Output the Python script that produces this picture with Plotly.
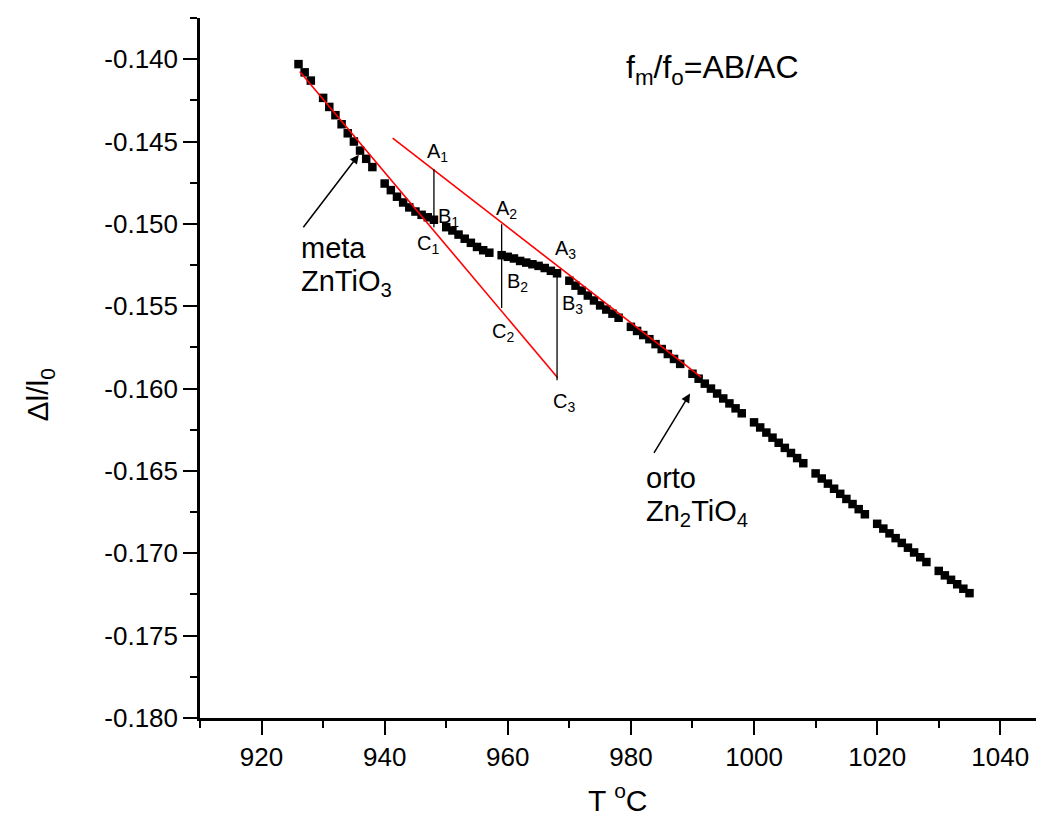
import plotly.graph_objects as go

# ---- measured data (T in °C, Δl/l0) ----
T = [926, 927, 928, 930, 931, 932, 933, 934, 935, 936, 937, 938,
     940, 941, 942, 943, 944, 945, 946, 947, 948,
     950, 951, 952, 953, 954, 955, 956, 957, 959,
     960, 961, 962, 963, 964, 965, 966, 967, 968,
     970, 971, 972, 973, 974, 975, 976, 977, 978,
     980, 981, 982, 983, 984, 985, 986, 987, 988,
     990, 991, 992, 993, 994, 995, 996, 997, 998,
     1000, 1001, 1002, 1003, 1004, 1005, 1006, 1007, 1008,
     1010, 1011, 1012, 1013, 1014, 1015, 1016, 1017, 1018,
     1020, 1021, 1022, 1023, 1024, 1025, 1026, 1027, 1028,
     1030, 1031, 1032, 1033, 1034, 1035]
DL = [-0.14030, -0.14080, -0.14130, -0.14235, -0.14290, -0.14340, -0.14395, -0.14450, -0.14500, -0.14555, -0.14605, -0.14655,
      -0.14755, -0.14795, -0.14835, -0.14870, -0.14900, -0.14925, -0.14945, -0.14960, -0.14975,
      -0.15020, -0.15040, -0.15065, -0.15090, -0.15115, -0.15140, -0.15160, -0.15175, -0.15190,
      -0.15200, -0.15210, -0.15225, -0.15235, -0.15245, -0.15255, -0.15268, -0.15285, -0.15300,
      -0.15345, -0.15375, -0.15405, -0.15435, -0.15465, -0.15495, -0.15520, -0.15545, -0.15570,
      -0.15625, -0.15650, -0.15675, -0.15700, -0.15730, -0.15760, -0.15790, -0.15820, -0.15850,
      -0.15910, -0.15940, -0.15970, -0.16000, -0.16030, -0.16060, -0.16090, -0.16120, -0.16150,
      -0.16205, -0.16236, -0.16267, -0.16298, -0.16329, -0.16360, -0.16391, -0.16422, -0.16453,
      -0.16515, -0.16546, -0.16577, -0.16608, -0.16639, -0.16670, -0.16701, -0.16732, -0.16763,
      -0.16821, -0.16850, -0.16879, -0.16908, -0.16937, -0.16966, -0.16995, -0.17024, -0.17053,
      -0.17107, -0.17134, -0.17161, -0.17188, -0.17215, -0.17242]

# tangent lines (red)
meta_line_T = [926.2, 968.1]
meta_line_v = [-0.14075, -0.15934]
orto_line_T = [941.3, 991.4]
orto_line_v = [-0.14480, -0.15930]

# vertical segments A-C
seg_T = [948, 959, 968]
seg_A = [-0.14668, -0.15002, -0.15276]
seg_C = [-0.15020, -0.15510, -0.15950]

# point labels
lab_text = ["A<sub>1</sub>", "B<sub>1</sub>", "C<sub>1</sub>",
            "A<sub>2</sub>", "B<sub>2</sub>", "C<sub>2</sub>",
            "A<sub>3</sub>", "B<sub>3</sub>", "C<sub>3</sub>"]
lab_T = [948.6, 950.4, 947.1, 959.8, 961.6, 959.3, 969.4, 970.5, 969.1]
lab_v = [-0.14568, -0.14962, -0.15126, -0.14913, -0.15357, -0.15660, -0.15156, -0.15490, -0.16085]

x_ticks = [920, 940, 960, 980, 1000, 1020, 1040]
y_ticks = [-0.180, -0.175, -0.170, -0.165, -0.160, -0.155, -0.150, -0.145, -0.140]
y_ticktext = ["-0.180", "-0.175", "-0.170", "-0.165", "-0.160", "-0.155", "-0.150", "-0.145", "-0.140"]

FONT = "Liberation Sans, Arial, sans-serif"
ANN = 29

fig = go.Figure()
fig.add_trace(go.Scatter(x=T, y=DL, mode="markers",
                         marker=dict(symbol="square", size=8.5, color="black",
                                     line=dict(width=0)),
                         showlegend=False, hoverinfo="x+y"))
fig.add_trace(go.Scatter(x=meta_line_T, y=meta_line_v, mode="lines",
                         line=dict(color="red", width=1.6), showlegend=False))
fig.add_trace(go.Scatter(x=orto_line_T, y=orto_line_v, mode="lines",
                         line=dict(color="red", width=1.6), showlegend=False))
for t, a, c in zip(seg_T, seg_A, seg_C):
    fig.add_trace(go.Scatter(x=[t, t], y=[a, c], mode="lines",
                             line=dict(color="black", width=1.3), showlegend=False))

for txt, t, v in zip(lab_text, lab_T, lab_v):
    fig.add_annotation(x=t, y=v, text=txt, showarrow=False,
                       font=dict(family=FONT, size=20, color="black"),
                       xanchor="center", yanchor="middle")

fig.add_annotation(x=993.3, y=-0.14063, text="f<sub>m</sub>/f<sub>o</sub>=AB/AC",
                   showarrow=False, font=dict(family=FONT, size=32, color="black"),
                   xanchor="center", yanchor="middle")

# meta label + arrow
fig.add_annotation(x=926.0, y=-0.15144, text="meta", showarrow=False,
                   font=dict(family=FONT, size=ANN, color="black"),
                   xanchor="left", yanchor="middle")
fig.add_annotation(x=926.0, y=-0.15357, text="ZnTiO<sub>3</sub>", showarrow=False,
                   font=dict(family=FONT, size=ANN, color="black"),
                   xanchor="left", yanchor="middle")
fig.add_annotation(x=935.8, y=-0.14580, ax=926.6, ay=-0.15030,
                   axref="x", ayref="y", text="", showarrow=True,
                   arrowhead=2, arrowsize=1.2, arrowwidth=1.5, arrowcolor="black")

# orto label + arrow
fig.add_annotation(x=982.2, y=-0.16541, text="orto", showarrow=False,
                   font=dict(family=FONT, size=ANN, color="black"),
                   xanchor="left", yanchor="middle")
fig.add_annotation(x=982.2, y=-0.16754, text="Zn<sub>2</sub>TiO<sub>4</sub>", showarrow=False,
                   font=dict(family=FONT, size=ANN, color="black"),
                   xanchor="left", yanchor="middle")
fig.add_annotation(x=989.6, y=-0.16030, ax=983.6, ay=-0.16400,
                   axref="x", ayref="y", text="", showarrow=True,
                   arrowhead=2, arrowsize=1.2, arrowwidth=1.5, arrowcolor="black")

# axis titles
fig.add_annotation(xref="paper", yref="paper", x=-0.188, y=0.462,
                   text="Δl/l<sub>0</sub>", textangle=-90, showarrow=False,
                   font=dict(family=FONT, size=30, color="black"),
                   xanchor="center", yanchor="middle")
fig.add_annotation(xref="paper", yref="paper", x=0.49, y=-0.114,
                   text="T <sup>o</sup>C", showarrow=False,
                   font=dict(family=FONT, size=30, color="black"),
                   xanchor="center", yanchor="middle")

fig.update_layout(
    width=1044, height=815,
    margin=dict(l=192, r=0, t=10, b=105),
    paper_bgcolor="white", plot_bgcolor="white",
    font=dict(family=FONT, color="black"),
    showlegend=False,
)
fig.update_xaxes(
    range=[910, 1048.4], showgrid=False, zeroline=False,
    showline=True, linecolor="black", linewidth=2.5,
    ticks="outside", ticklen=14, tickwidth=2.2, tickcolor="black",
    tickvals=x_ticks, tickfont=dict(family=FONT, size=26),
    minor=dict(ticks="outside", ticklen=7, tickwidth=2.2, tickcolor="black", dtick=10, tick0=910),
)
fig.update_yaxes(
    range=[-0.180, -0.1375], showgrid=False, zeroline=False,
    showline=True, linecolor="black", linewidth=2.5,
    ticks="outside", ticklen=14, tickwidth=2.2, tickcolor="black",
    tickvals=y_ticks, ticktext=y_ticktext, tickfont=dict(family=FONT, size=26),
    minor=dict(ticks="outside", ticklen=7, tickwidth=2.2, tickcolor="black", dtick=0.0025, tick0=-0.180),
)

fig.write_html("out.html")
